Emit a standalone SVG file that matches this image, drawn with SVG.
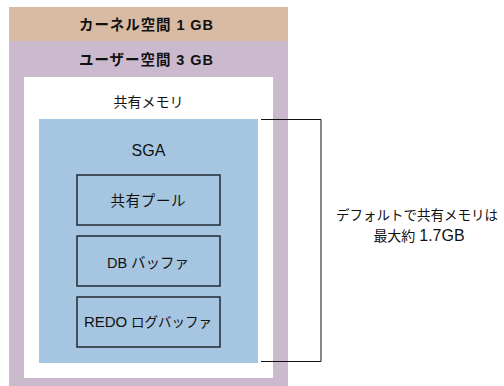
<svg xmlns="http://www.w3.org/2000/svg" width="504" height="386" viewBox="0 0 504 386">
  <style>
    text { font-family: "Liberation Sans", "Noto Sans CJK JP", sans-serif; fill: #111; text-anchor: middle; }
    .hdr { font-size: 14.5px; font-weight: bold; }
    .lbl { font-size: 14.5px; }
    .sm { font-size: 13.5px; }
    .sga { font-size: 16px; }
    .box { fill: none; stroke: #1f2a33; stroke-width: 1.5; }
  </style>
  <!-- address space layers -->
  <g id="kernel-space">
    <rect x="9" y="7" width="279" height="34" fill="#d9bba4"/>
    <text class="hdr" x="146" y="30" textLength="134" lengthAdjust="spacing">カーネル空間 1 GB</text>
  </g>
  <g id="user-space">
    <rect x="9" y="41" width="279" height="345" fill="#cbb9cd"/>
    <text class="hdr" x="146" y="65" textLength="134" lengthAdjust="spacing">ユーザー空間 3 GB</text>
  </g>
  <g id="shared-memory">
    <rect x="24" y="77" width="249" height="301" fill="#ffffff"/>
    <text class="lbl" x="148.5" y="107" style="font-size:14px">共有メモリ</text>
  </g>
  <g id="sga">
    <rect x="39" y="119" width="219" height="244" fill="#a6c5e0"/>
    <text class="sga" x="148.5" y="155.5">SGA</text>
  </g>
  <g id="shared-pool">
    <rect class="box" x="77" y="175" width="143" height="50"/>
    <text class="lbl" x="148" y="205.5" textLength="75" lengthAdjust="spacing">共有プール</text>
  </g>
  <g id="db-buffer">
    <rect class="box" x="77" y="236" width="143" height="50"/>
    <text class="lbl" x="148" y="267.5">DB バッファ</text>
  </g>
  <g id="redo-log-buffer">
    <rect class="box" x="77" y="297" width="143" height="50"/>
    <text class="sm" x="148" y="327"><tspan style="font-size:15px">REDO</tspan> ログバッファ</text>
  </g>
  <!-- bracket spanning the shared memory -->
  <g id="connectors">
    <path d="M261 119.5 H321 V361.5 H261" fill="none" stroke="#111" stroke-width="1"/>
  </g>
  <g id="note">
    <text class="sm" x="417" y="220">デフォルトで共有メモリは</text>
    <text class="sm" x="419" y="241" style="font-size:14px">最大約 <tspan style="font-size:16px">1.7GB</tspan></text>
  </g>
</svg>
